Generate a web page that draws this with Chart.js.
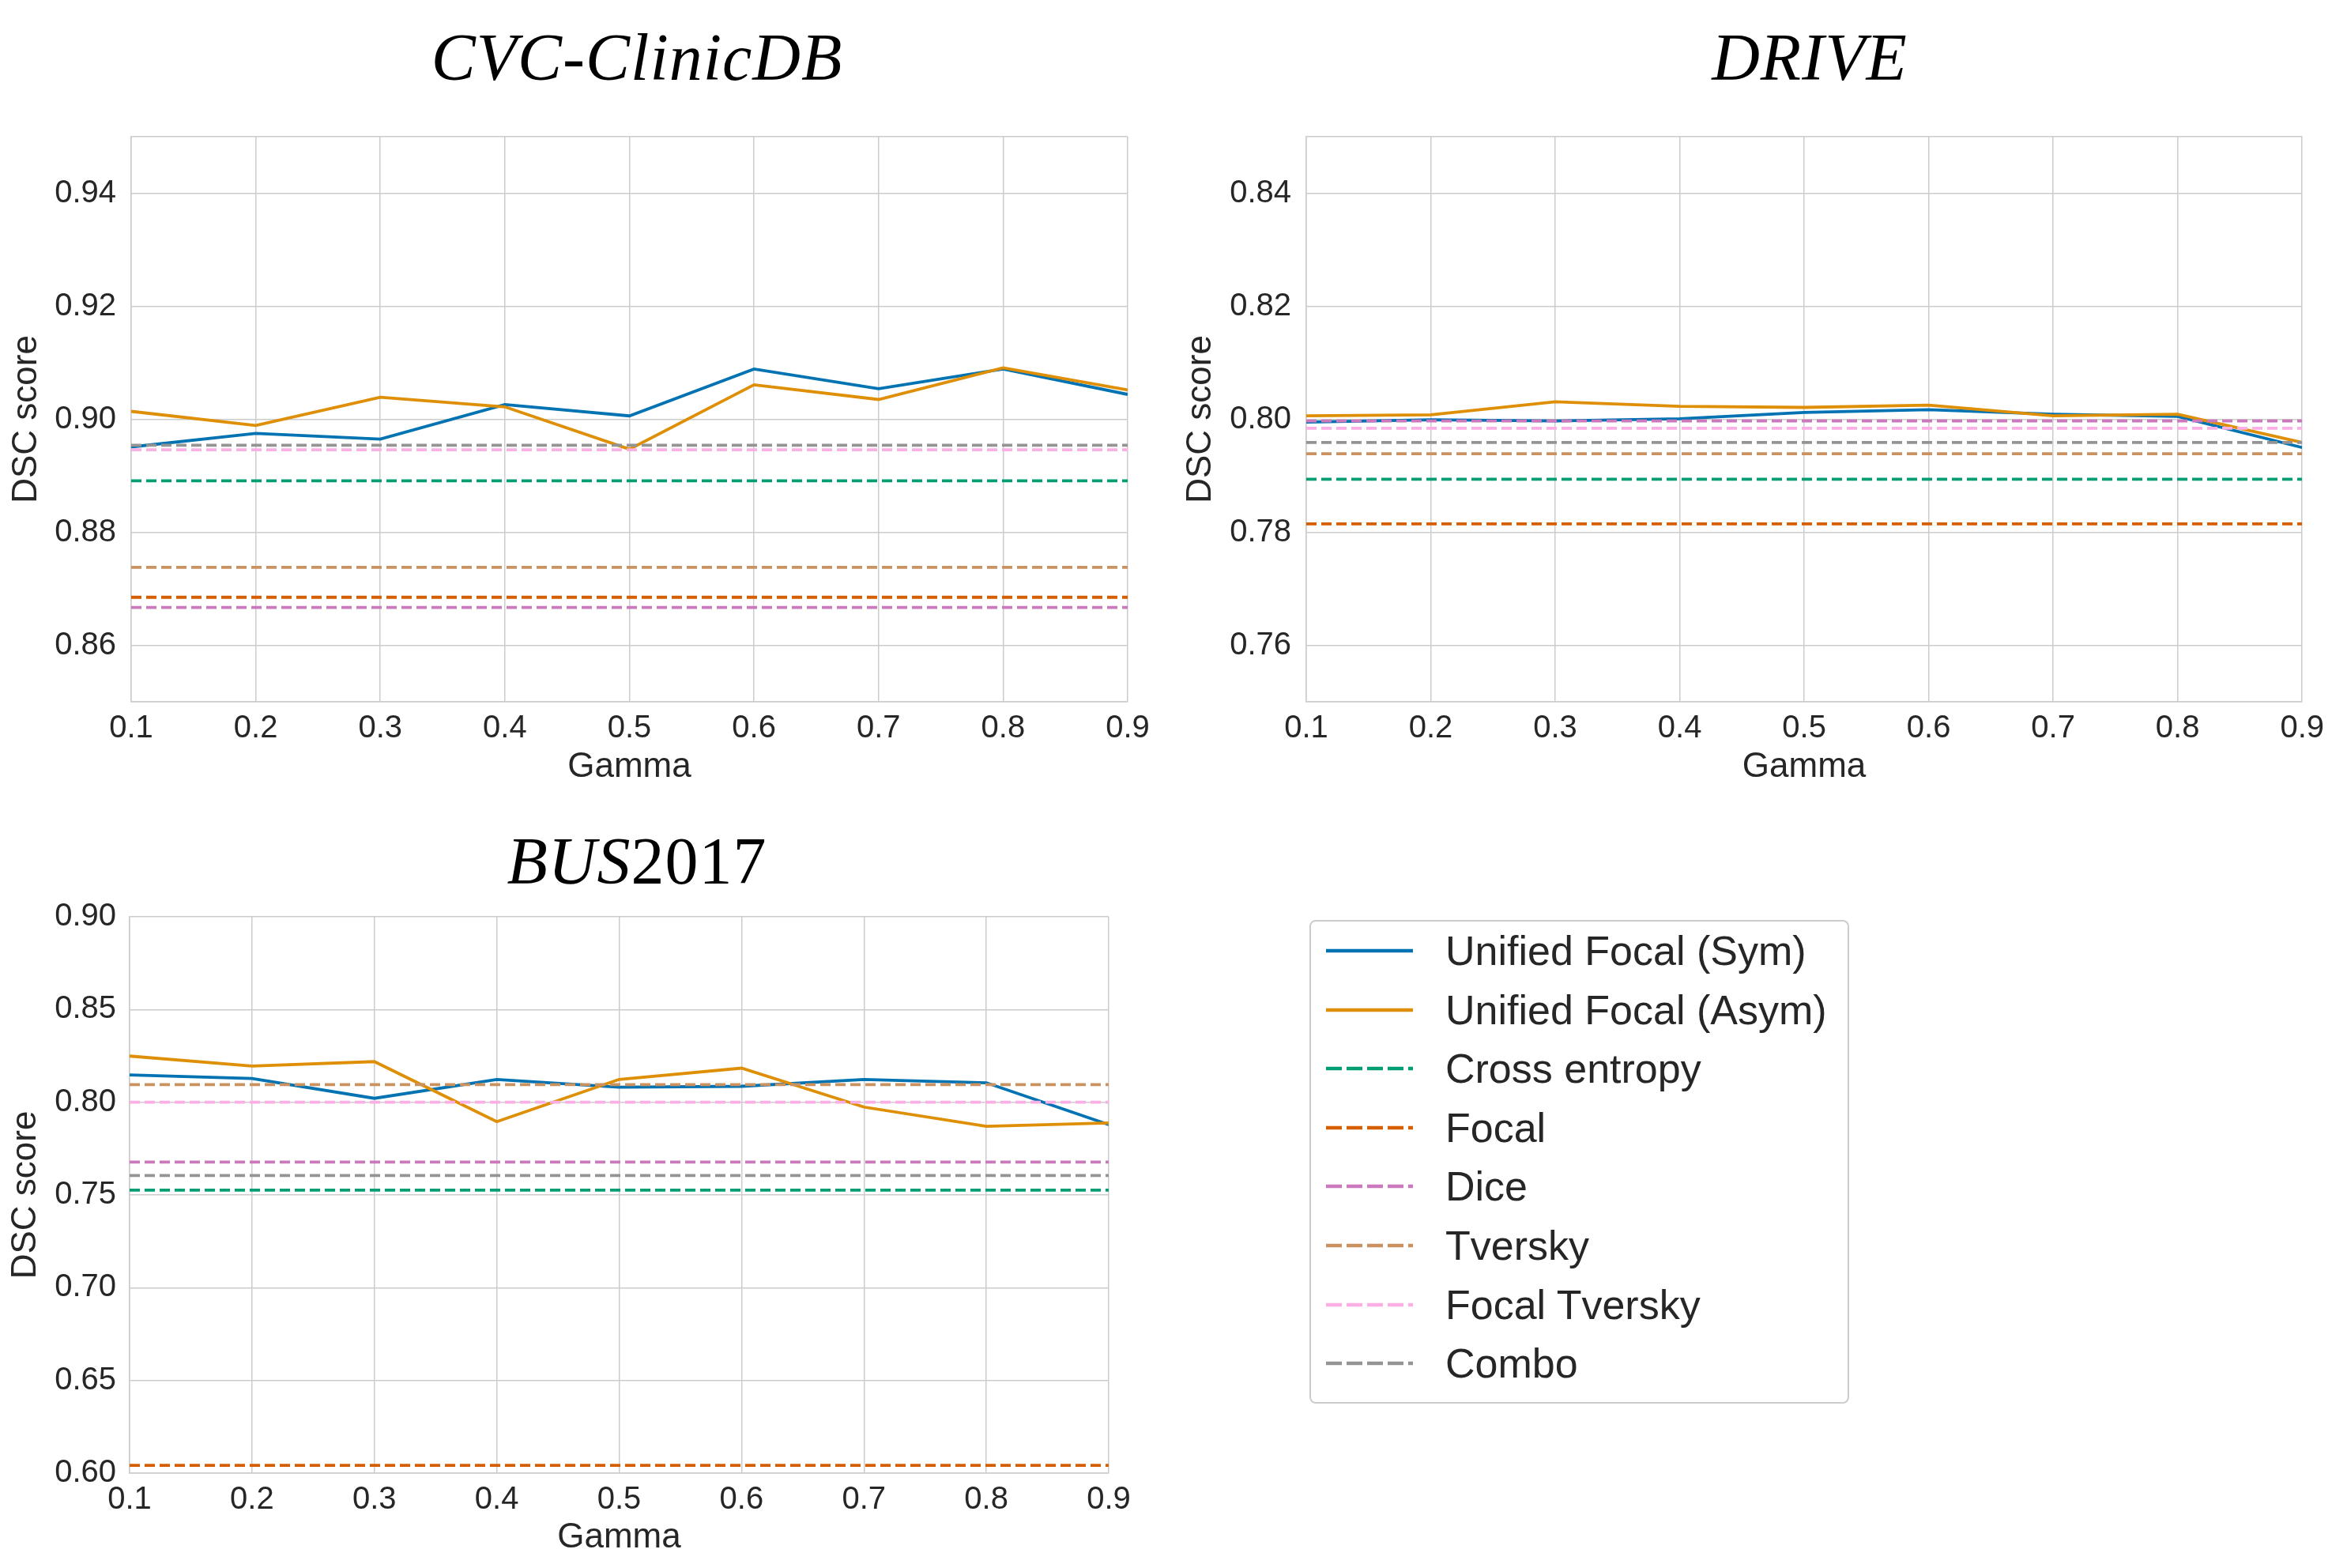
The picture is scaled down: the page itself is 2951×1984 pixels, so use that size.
<!DOCTYPE html>
<html>
<head>
<meta charset="utf-8">
<script src="https://cdn.jsdelivr.net/npm/chart.js@4.4.1/dist/chart.umd.min.js"></script>
<style>
  html, body { margin: 0; padding: 0; background: #fff; }
  body { width: 2951px; height: 1984px; position: relative; overflow: hidden; }
  .box { position: absolute; }
  .title { position: absolute; font-family: 'Liberation Serif', 'DejaVu Serif', serif; font-size: 84px;
           line-height: 84px; color: #000; transform: translateX(-50%); white-space: nowrap; letter-spacing: 1px; }
  .title i { font-style: italic; }
  #legend { position: absolute; left: 1657px; top: 1164px; width: 679px; height: 608px;
            border: 2px solid #cccccc; border-radius: 8px; background: #fff; }
  .row { position: absolute; left: 0; height: 0; }
  .row svg { position: absolute; left: 19px; top: -6px; }
  .row span { position: absolute; left: 170px; top: -31px; font-family: 'Liberation Sans', Arial, sans-serif;
              font-size: 52px; line-height: 62px; color: #262626; white-space: nowrap; }
</style>
</head>
<body>
<div class="box" style="left:0;top:0;width:1475px;height:1010px"><canvas id="cvc"></canvas></div>
<div class="box" style="left:1475px;top:0;width:1476px;height:1010px"><canvas id="drive"></canvas></div>
<div class="box" style="left:0;top:1010px;width:1475px;height:974px"><canvas id="bus"></canvas></div>

<div class="title" style="left:806px;top:31px"><i>CVC-ClinicDB</i></div>
<div class="title" style="left:2290px;top:31px"><i>DRIVE</i></div>
<div class="title" style="left:806px;top:1048px"><i>BUS</i>2017</div>
<div id="legend"></div>

<script>
// gamma values on the x axis
var gamma = [0.1, 0.2, 0.3, 0.4, 0.5, 0.6, 0.7, 0.8, 0.9];

var methodNames = ['Unified Focal (Sym)', 'Unified Focal (Asym)', 'Cross entropy', 'Focal',
                   'Dice', 'Tversky', 'Focal Tversky', 'Combo'];
var methodColors = ['#0173b2', '#de8f05', '#029e73', '#d55e00', '#cc78bc', '#ca9161', '#fbafe4', '#949494'];

// CVC-ClinicDB
var cvcSym  = [0.8951, 0.8975, 0.8965, 0.9026, 0.9006, 0.9089, 0.9054, 0.9089, 0.9044];
var cvcAsym = [0.9014, 0.8989, 0.9039, 0.9022, 0.8947, 0.9061, 0.9035, 0.9091, 0.9052];
// baselines: CE, Focal, Dice, Tversky, Focal Tversky, Combo
var cvcBase = [0.8891, 0.8685, 0.8667, 0.8738, 0.8946, 0.8954];
var cvcTicks = [0.85, 0.86, 0.88, 0.90, 0.92, 0.94, 0.95];

// DRIVE
var driveSym  = [0.7995, 0.7999, 0.7997, 0.8001, 0.8012, 0.8017, 0.8009, 0.8005, 0.7950];
var driveAsym = [0.8006, 0.8008, 0.8031, 0.8023, 0.8021, 0.8025, 0.8006, 0.8009, 0.7959];
var driveBase = [0.7894, 0.7815, 0.7997, 0.7939, 0.7984, 0.7959];
var driveTicks = [0.75, 0.76, 0.78, 0.80, 0.82, 0.84, 0.85];

// BUS2017
var busSym  = [0.8147, 0.8128, 0.8021, 0.8123, 0.8081, 0.8086, 0.8123, 0.8105, 0.7879];
var busAsym = [0.8249, 0.8195, 0.8219, 0.7895, 0.8123, 0.8184, 0.7974, 0.7870, 0.7888];
var busBase = [0.7526, 0.6042, 0.7677, 0.8095, 0.8000, 0.7605];
var busTicks = [0.60, 0.65, 0.70, 0.75, 0.80, 0.85, 0.90];

Chart.defaults.font.family = "'Liberation Sans', Arial, sans-serif";
Chart.defaults.color = '#262626';

var GRID = '#cccccc';
var DASH = [13, 6];

function makeChart(id, sym, asym, base, yTicks, g) {
  var yMin = yTicks[0], yMax = yTicks[yTicks.length - 1];
  var datasets = [
    { data: gamma.map(function(x, i) { return {x: x, y: sym[i]}; }), borderColor: methodColors[0], order: 2 },
    { data: gamma.map(function(x, i) { return {x: x, y: asym[i]}; }), borderColor: methodColors[1], order: 1 }
  ];
  base.forEach(function(v, k) {
    datasets.push({
      data: [{x: gamma[0], y: v}, {x: gamma[gamma.length - 1], y: v}],
      borderColor: methodColors[k + 2], borderDash: DASH, order: 0
    });
  });
  datasets.forEach(function(d) {
    d.borderWidth = 3.8; d.pointRadius = 0; d.fill = false; d.tension = 0;
  });

  return new Chart(document.getElementById(id), {
    type: 'line',
    data: { datasets: datasets },
    options: {
      responsive: true,
      maintainAspectRatio: false,
      animation: false,
      layout: { padding: { top: g.padTop, right: g.padRight, left: 0, bottom: 0 } },
      plugins: { legend: { display: false }, tooltip: { enabled: false } },
      scales: {
        x: {
          type: 'linear', min: gamma[0], max: gamma[gamma.length - 1],
          afterBuildTicks: function(s) { s.ticks = gamma.map(function(v) { return {value: v}; }); },
          afterFit: function(s) { s.height = g.xAxisH; },
          ticks: { font: { size: 40 }, padding: 10, maxRotation: 0, autoSkip: false,
                   callback: function(v) { return v.toFixed(1); } },
          grid: { color: GRID, lineWidth: 1.5, drawTicks: false },
          border: { color: GRID, width: 1.5 },
          title: { display: true, text: 'Gamma', font: { size: 44 }, padding: { top: 0, bottom: g.xTitlePad } }
        },
        y: {
          type: 'linear', min: yMin, max: yMax,
          afterBuildTicks: function(s) { s.ticks = yTicks.map(function(v) { return {value: v}; }); },
          afterFit: function(s) { s.width = g.yAxisW; },
          ticks: { font: { size: 40 }, padding: g.yTickPad, autoSkip: false,
                   callback: function(v) { return (g.edgeLabels || (v !== yMin && v !== yMax)) ? v.toFixed(2) : ''; } },
          grid: { color: GRID, lineWidth: 1.5, drawTicks: false },
          border: { color: GRID, width: 1.5 },
          title: { display: true, text: 'DSC score', font: { size: 44 }, padding: { top: g.yTitlePad, bottom: 0 } }
        }
      }
    }
  });
}

makeChart('cvc', cvcSym, cvcAsym, cvcBase, cvcTicks,
  { padTop: 173, padRight: 48, yAxisW: 166, xAxisH: 122, yTickPad: 19, yTitlePad: 7, xTitlePad: 13 });
makeChart('drive', driveSym, driveAsym, driveBase, driveTicks,
  { padTop: 173, padRight: 36, yAxisW: 178, xAxisH: 122, yTickPad: 19, yTitlePad: 18, xTitlePad: 13 });
makeChart('bus', busSym, busAsym, busBase, busTicks,
  { padTop: 150, padRight: 72, yAxisW: 164, xAxisH: 120, yTickPad: 17, yTitlePad: 6, xTitlePad: 12, edgeLabels: true });

// legend
var legend = document.getElementById('legend');
methodNames.forEach(function(name, i) {
  var row = document.createElement('div');
  row.className = 'row';
  row.style.top = (37 + 74.6 * i) + 'px';
  var dash = i < 2 ? '' : ' stroke-dasharray="20 6"';
  row.innerHTML = '<svg width="112" height="12"><line x1="0" y1="6" x2="110" y2="6" stroke="' +
    methodColors[i] + '" stroke-width="4.5"' + dash + '/></svg><span>' + name + '</span>';
  legend.appendChild(row);
});
</script>
</body>
</html>
